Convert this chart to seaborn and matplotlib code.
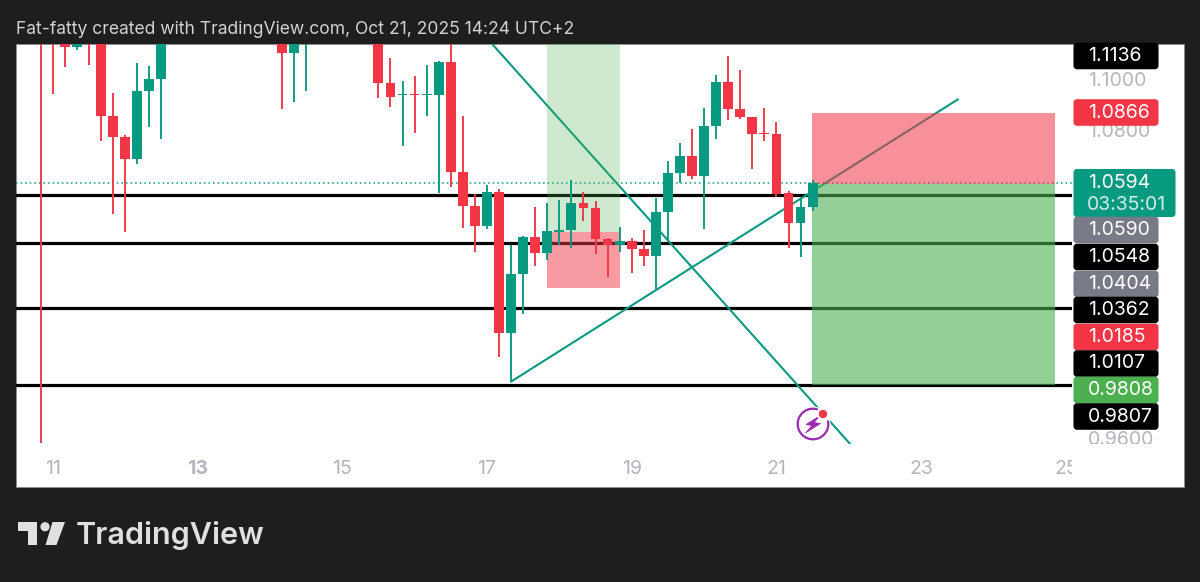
import numpy as np
import pandas as pd
import matplotlib
matplotlib.use("Agg")
import matplotlib.pyplot as plt
import seaborn as sns
from matplotlib.lines import Line2D
from matplotlib.patches import Rectangle, Circle, Polygon, FancyBboxPatch
from matplotlib.transforms import Affine2D, Bbox

# 4-hour EUR-style candles: slot number, open, high, low, close
slots = [0, 1, 2, 3, 4, 5, 6, 7, 8, 9, 10, 20, 21, 22, 28, 29, 30, 31, 32, 33, 34, 35, 36,
         37, 38, 39, 40, 41, 42, 43, 44, 45, 46, 47, 48, 49, 50, 51, 52, 53, 54, 55, 56,
         57, 58, 59, 60, 61, 62, 63, 64]
opens = [1.1250, 1.1220, 1.1150, 1.1124, 1.1200, 1.1250, 1.0856, 1.0771, 1.0686, 1.0953, 1.1000,
         1.1180, 1.1101, 1.1180, 1.1180, 1.0984, 1.0935, 1.0941, 1.0935, 1.0934, 1.1066, 1.0635, 1.0503,
         1.0426, 1.0558, 1.0011, 1.0240, 1.0383, 1.0321, 1.0404, 1.0410, 1.0515, 1.0496, 1.0375, 1.0352,
         1.0368, 1.0337, 1.0310, 1.0480, 1.0631, 1.0697, 1.0620, 1.0814, 1.0988, 1.0880, 1.0849, 1.0789,
         1.0783, 1.0554, 1.0438, 1.0500]
highs = [1.1300, 1.1250, 1.1170, 1.1170, 1.1220, 1.1270, 1.0942, 1.0779, 1.1062, 1.1047, 1.1200,
         1.1200, 1.1200, 1.1250, 1.1200, 1.1078, 1.0992, 1.1008, 1.1054, 1.1070, 1.1140, 1.0853, 1.0550,
         1.0585, 1.0569, 1.0352, 1.0387, 1.0500, 1.0515, 1.0527, 1.0604, 1.0558, 1.0523, 1.0379, 1.0422,
         1.0379, 1.0410, 1.0535, 1.0678, 1.0748, 1.0802, 1.0884, 1.1012, 1.1089, 1.1035, 1.0849, 1.0884,
         1.0829, 1.0562, 1.0535, 1.0604]
lows = [0.9584, 1.0938, 1.1043, 1.1109, 1.1054, 1.0756, 1.0472, 1.0403, 1.0666, 1.0810, 1.0763,
        1.0880, 1.0907, 1.0950, 1.0926, 1.0891, 1.0736, 1.0787, 1.0856, 1.0554, 1.0577, 1.0418, 1.0325,
        1.0414, 0.9918, 0.9821, 1.0085, 1.0271, 1.0294, 1.0352, 1.0341, 1.0445, 1.0317, 1.0228, 1.0325,
        1.0244, 1.0271, 1.0178, 1.0372, 1.0593, 1.0608, 1.0414, 1.0763, 1.0837, 1.0841, 1.0647, 1.0756,
        1.0538, 1.0341, 1.0306, 1.0484]
closes = [1.1200, 1.1180, 1.1124, 1.1150, 1.1160, 1.0856, 1.0771, 1.0686, 1.0953, 1.1000, 1.1180,
          1.1101, 1.1180, 1.1220, 1.0984, 1.0930, 1.0941, 1.0935, 1.0941, 1.1066, 1.0635, 1.0503, 1.0426,
          1.0558, 1.0011, 1.0240, 1.0383, 1.0321, 1.0407, 1.0410, 1.0515, 1.0496, 1.0375, 1.0352, 1.0368,
          1.0337, 1.0310, 1.0480, 1.0631, 1.0697, 1.0620, 1.0814, 1.0988, 1.0880, 1.0849, 1.0783, 1.0785,
          1.0550, 1.0438, 1.0500, 1.0593]

# horizontal levels and drawn trend lines
level_prices = [1.0548, 1.0362, 1.0107, 0.9807]
current_price = 1.0594
rising_days = [17.333, 23.508]
rising_prices = [0.9821, 1.0919]
falling_days = [16.834, 22.125]
falling_prices = [1.1209, 0.9545]

# risk/reward boxes: first day, last day, target, entry, stop
early_box = (17.83, 18.84, 1.1136, 1.0404, 1.0185)
late_box = (21.49, 24.85, 0.9808, 1.0590, 1.0866)

# axis contents
date_ticks = [11, 13, 15, 17, 19, 21, 23, 25]
price_ticks = [1.10, 1.08, 0.96]
axis_tags = ["1.1136", "1.0866", "1.0590", "1.0548", "1.0404", "1.0362", "1.0185", "1.0107", "0.9808", "0.9807"]
tag_colors = ["#000000", "#F23645", "#787B86", "#000000", "#787B86", "#000000", "#F23645", "#000000", "#4CAF50", "#000000"]
tag_centers = [56, 112.5, 230, 257, 284, 310, 337, 363.5, 390, 416.5]
header = "Fat-fatty created with TradingView.com, Oct 21, 2025 14:24 UTC+2"

RED = "#F23645"
TEAL = "#089981"
PURPLE = "#9C27B0"
TICK_GREY = "#B4B6BD"
W, H = 1200, 582

sns.set_theme(style="white")
plt.rcParams["font.family"] = ["Inter", "DejaVu Sans"]

fig = plt.figure(figsize=(W / 100, H / 100), dpi=100, facecolor="#1E1E1E")
px = Affine2D().scale(1 / W, -1 / H).translate(0, 1) + fig.transFigure

# white panel behind the chart and its axis strips
fig.add_artist(Rectangle((16, 44), 1168, 443, transform=px, facecolor="white",
                         edgecolor="#8C8C8C", linewidth=0.6, zorder=-1))

ax = fig.add_axes([16 / W, 1 - 444 / H, 1056 / W, 400 / H])
ax.patch.set_alpha(0)

candles = pd.DataFrame({"slot": slots, "open": opens, "high": highs, "low": lows, "close": closes})
candles["day"] = 10 + 5 / 6 + candles["slot"] / 6
candles["color"] = np.where(candles["close"] >= candles["open"], TEAL, RED)

for level in level_prices:
    ax.axhline(level, color="black", linewidth=2.3, zorder=1)
ax.axhline(current_price, color=TEAL, linewidth=1.1, linestyle=(0, (1, 2)), zorder=1)

sns.lineplot(x=rising_days, y=rising_prices, ax=ax, color=TEAL, linewidth=1.5,
             estimator=None, sort=False, zorder=1.2)
sns.lineplot(x=falling_days, y=falling_prices, ax=ax, color=TEAL, linewidth=1.5,
             estimator=None, sort=False, zorder=1.2)

# translucent target and stop zones
d0, d1, target, entry, stop = early_box
ax.fill_between([d0, d1], entry, target, color="#4CAF50", alpha=0.27, linewidth=0, zorder=1.5)
ax.fill_between([d0, d1], entry, stop, color=RED, alpha=0.5, linewidth=0, zorder=1.5)
d0, d1, target, entry, stop = late_box
ax.fill_between([d0, d1], entry, target, color="#4CAF50", alpha=0.6, linewidth=0, zorder=1.5)
ax.fill_between([d0, d1], entry, stop, color=RED, alpha=0.55, linewidth=0, zorder=1.5)

ax.vlines(candles["day"], candles["low"], candles["high"], colors=candles["color"],
          linewidth=1.35, zorder=3)
ax.bar(candles["day"], (candles["close"] - candles["open"]).abs(),
       bottom=candles[["open", "close"]].min(axis=1), width=0.136,
       color=candles["color"], linewidth=0, zorder=3.1)

ax.set_xlim(10.4929, 25.0838)
ax.set_ylim(0.95784, 1.11342)
sns.despine(ax=ax, left=True, bottom=True)

# date axis inside the panel; both axes are clipped at the chart edges
ax.set_xticks(date_ticks)
ax.set_xticklabels([str(d) for d in date_ticks], fontsize=14, color=TICK_GREY)
ax.tick_params(axis="x", length=0, pad=11.5)
for tick_label, day in zip(ax.get_xticklabels(), date_ticks):
    if day == 13:
        tick_label.set_fontweight("bold")
    tick_label.set_clip_on(True)
    tick_label.set_clip_box(Bbox([[0, 0], [1072, H]]))

ax.yaxis.tick_right()
ax.set_yticks(price_ticks)
ax.set_yticklabels([f"{p:.4f}" for p in price_ticks], fontsize=14, color=TICK_GREY)
ax.tick_params(axis="y", length=0, pad=11.5)
for tick_label in ax.get_yticklabels():
    tick_label.set_clip_on(True)
    tick_label.set_clip_box(Bbox([[0, H - 444], [W, H]]))

# price tags stacked along the right edge
def tag(y_top, height, width, color):
    fig.add_artist(FancyBboxPatch((1075, y_top + 1.5), width - 4, height - 3, transform=px,
                                  boxstyle="round,pad=0,rounding_size=2", mutation_aspect=1,
                                  facecolor=color, edgecolor=color, linewidth=2.2, zorder=5))

tag(169, 48, 103, TEAL)
fig.text(1088 / W, 1 - 183 / H, f"{current_price:.4f}", color="white", fontsize=14, va="center", zorder=6)
fig.text(1087 / W, 1 - 205 / H, "03:35:01", color="#CFEDE6", fontsize=14, va="center", zorder=6)
for label, color, center in zip(axis_tags, tag_colors, tag_centers):
    tag(center - 13.25, 26.5, 86, color)
    fig.text(1088 / W, 1 - center / H, label, color="white", fontsize=14, va="center", zorder=6)

# lightning alert badge sitting on the falling line
fig.add_artist(Circle((813, 424), 17.5, transform=px, facecolor="white", edgecolor="none", zorder=4))
sweep = np.radians(np.linspace(-10, 285, 80))
fig.add_artist(Line2D(813 + 15.3 * np.cos(sweep), 424 + 15.3 * np.sin(sweep), transform=px,
                      color=PURPLE, linewidth=1.6, zorder=4.1))
fig.add_artist(Polygon([(820.5, 415.5), (806, 424.5), (812, 425.5), (805.5, 433), (820.5, 423.5), (814, 422.5)],
                       transform=px, facecolor=PURPLE, edgecolor=PURPLE, linewidth=0.5, zorder=4.2))
fig.add_artist(Circle((823, 414), 6, transform=px, facecolor="white", edgecolor="none", zorder=4.25))
fig.add_artist(Circle((823, 414), 4.2, transform=px, facecolor=RED, edgecolor="none", zorder=4.3))

# title strip and brand footer
fig.text(16 / W, 1 - 30 / H, header, color="#D2D2D2", fontsize=12.6, va="center")
LOGO = "#E0E0E0"
fig.add_artist(Polygon([(18, 522), (37, 522), (37, 545), (28, 545), (28, 531), (18, 531)],
                       transform=px, facecolor=LOGO, edgecolor="none"))
fig.add_artist(Circle((45, 526.7), 4.6, transform=px, facecolor=LOGO, edgecolor="none"))
fig.add_artist(Polygon([(52.5, 522), (65, 522), (56.5, 545), (45.5, 545)],
                       transform=px, facecolor=LOGO, edgecolor="none"))
fig.text(76 / W, 1 - 536 / H, "TradingView", color=LOGO, fontsize=22, fontweight="semibold", va="center")

fig.savefig("out.png", dpi=100, facecolor=fig.get_facecolor())
